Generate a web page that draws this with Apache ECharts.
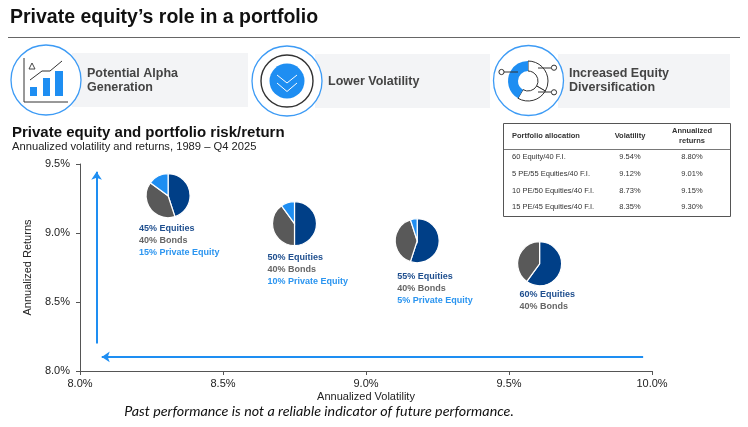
<!DOCTYPE html>
<html>
<head>
<meta charset="utf-8">
<script src="https://cdn.jsdelivr.net/npm/echarts@6/dist/echarts.min.js"></script>
<style>
  html, body { margin: 0; padding: 0; background: #fff; }
  #chart { width: 748px; height: 427px; }
</style>
</head>
<body>
<div id="chart"></div>
<script>
// ── Data ──────────────────────────────────────────────────────────────────
const PORTFOLIOS = ['60 Equity/40 F.I.', '5 PE/55 Equities/40 F.I.', '10 PE/50 Equities/40 F.I.', '15 PE/45 Equities/40 F.I.']
const VOLATILITY = [9.54, 9.12, 8.73, 8.35]
const RETURNS = [8.80, 9.01, 9.15, 9.30]

// pie mixes in %, same order as PORTFOLIOS
const EQUITIES = [60, 55, 50, 45]
const BONDS = [40, 40, 40, 40]
const PRIVATE_EQ = [0, 5, 10, 15]

// where each pie sits on the chart (volatility %, return %)
const PIE_VOL = [9.607, 9.179, 8.75, 8.308]
const PIE_RET = [8.777, 8.944, 9.068, 9.27]

// the two blue arrows, in axis units
const UP_ARROW = [[8.058, 8.199], [8.058, 9.444]]
const LEFT_ARROW = [[9.969, 8.102], [8.076, 8.102]]

const X_RANGE = [8.0, 10.0]
const Y_RANGE = [8.0, 9.5]
const TICK_STEP = 0.5

// ── Styling ───────────────────────────────────────────────────────────────
const NAVY = '#003f87'
const GREY = '#595959'
const SKY = '#1e8ef2'
const ICON_BLUE = '#3d9bf5'
const FONT = '"Liberation Sans", Arial, sans-serif'
const PIE_R = 22
const LABEL_OFFSETS = [[-20, 31], [-20, 36], [-27, 34], [-29, 33]]
const LABEL_COLORS = ['#1f4f8f', '#666666', '#2b95f0']

const chart = echarts.init(document.getElementById('chart'), null, { renderer: 'canvas' })

function txt(x, y, text, font, fill, align) {
  return {
    type: 'text', x, y, silent: true,
    style: { text, font, fill, align: align || 'left', verticalAlign: 'middle' }
  }
}

// ── Header, icons, table, notes (static decoration) ───────────────────────
function buildGraphics() {
  const g = []
  const iconFont = 'bold 12.5px ' + FONT
  g.push(txt(10, 18, 'Private equity\u2019s role in a portfolio', 'bold 19.5px ' + FONT, '#111'))
  g.push({ type: 'line', shape: { x1: 8, y1: 37.5, x2: 740, y2: 37.5 }, style: { stroke: '#666', lineWidth: 1 } })

  // panels
  g.push({ type: 'rect', shape: { x: 72, y: 53, width: 176, height: 54 }, style: { fill: '#f3f4f6' } })
  g.push({ type: 'rect', shape: { x: 315, y: 54, width: 175, height: 54 }, style: { fill: '#f3f4f6' } })
  g.push({ type: 'rect', shape: { x: 558, y: 54, width: 172, height: 54 }, style: { fill: '#f3f4f6' } })
  ;[[46, 80], [287, 81], [528.5, 80.5]].forEach(([cx, cy]) => {
    g.push({ type: 'circle', shape: { cx, cy, r: 35 }, style: { fill: '#fff', stroke: ICON_BLUE, lineWidth: 1.3 } })
  })

  // icon 1: growth chart
  g.push({ type: 'polyline', shape: { points: [[24, 58], [24, 102], [68, 102]] }, style: { stroke: '#333', lineWidth: 1, fill: null } })
  g.push({ type: 'rect', shape: { x: 30, y: 87, width: 7, height: 9 }, style: { fill: SKY } })
  g.push({ type: 'rect', shape: { x: 43, y: 78, width: 7, height: 18 }, style: { fill: SKY } })
  g.push({ type: 'rect', shape: { x: 55, y: 71, width: 8, height: 25 }, style: { fill: SKY } })
  g.push({ type: 'polyline', shape: { points: [[30, 80], [42, 71], [50, 71], [62, 61]] }, style: { stroke: '#333', lineWidth: 1, fill: null } })
  g.push({ type: 'polygon', shape: { points: [[29, 69], [32, 63], [35, 69]] }, style: { stroke: '#333', lineWidth: 0.9, fill: null } })
  g.push(txt(87, 74, 'Potential Alpha', iconFont, '#444'))
  g.push(txt(87, 88, 'Generation', iconFont, '#444'))

  // icon 2: lower volatility
  g.push({ type: 'circle', shape: { cx: 287, cy: 81, r: 26 }, style: { fill: null, stroke: '#333', lineWidth: 1.4 } })
  g.push({ type: 'circle', shape: { cx: 287, cy: 81, r: 17.5 }, style: { fill: SKY } })
  g.push({ type: 'polyline', shape: { points: [[277, 75], [287, 83], [297, 75]] }, style: { stroke: '#fff', lineWidth: 1, fill: null } })
  g.push({ type: 'polyline', shape: { points: [[277, 83], [287, 91.5], [297, 83]] }, style: { stroke: '#fff', lineWidth: 1, fill: null } })
  g.push(txt(328, 82, 'Lower Volatility', iconFont, '#444'))

  // icon 3: diversification donut
  const dx = 528, dy = 81
  g.push({ type: 'sector', shape: { cx: dx, cy: dy, r0: 10, r: 20, startAngle: -Math.PI / 2, endAngle: Math.PI / 6, clockwise: true }, style: { fill: '#fff', stroke: '#333', lineWidth: 1 } })
  g.push({ type: 'sector', shape: { cx: dx, cy: dy, r0: 10, r: 20, startAngle: Math.PI / 6, endAngle: 2 * Math.PI / 3, clockwise: true }, style: { fill: '#fff', stroke: '#333', lineWidth: 1 } })
  g.push({ type: 'sector', shape: { cx: dx, cy: dy, r0: 10, r: 20, startAngle: 2 * Math.PI / 3, endAngle: 3 * Math.PI / 2, clockwise: true }, style: { fill: SKY } })
  ;[[[504, 72], [518, 72], [501.5, 72]], [[538, 68], [551, 68], [554, 67.7]], [[538, 92], [551, 92], [554, 92.3]]].forEach(([a, b, c]) => {
    g.push({ type: 'line', shape: { x1: a[0], y1: a[1], x2: b[0], y2: b[1] }, style: { stroke: '#333', lineWidth: 1 } })
    g.push({ type: 'circle', shape: { cx: c[0], cy: c[1], r: 2.6 }, style: { fill: '#fff', stroke: '#333', lineWidth: 1 } })
  })
  g.push(txt(569, 74, 'Increased Equity', iconFont, '#444'))
  g.push(txt(569, 88, 'Diversification', iconFont, '#444'))

  // chart headings
  g.push(txt(12, 133, 'Private equity and portfolio risk/return', 'bold 15px ' + FONT, '#111'))
  g.push(txt(12, 147, 'Annualized volatility and returns, 1989 \u2013 Q4 2025', '11.2px ' + FONT, '#222'))

  // table
  const tf = '7.5px ' + FONT, tb = 'bold 7.5px ' + FONT
  g.push({ type: 'rect', shape: { x: 503.5, y: 123.5, width: 227, height: 93 }, style: { fill: '#fff', stroke: '#555', lineWidth: 1 } })
  g.push({ type: 'line', shape: { x1: 503.5, y1: 149.5, x2: 730.5, y2: 149.5 }, style: { stroke: '#555', lineWidth: 0.8 } })
  g.push(txt(512, 136, 'Portfolio allocation', tb, '#333'))
  g.push(txt(630, 136, 'Volatility', tb, '#333', 'center'))
  g.push(txt(692, 131, 'Annualized', tb, '#333', 'center'))
  g.push(txt(692, 141, 'returns', tb, '#333', 'center'))
  const rowY = [157, 173.5, 190.5, 207]
  PORTFOLIOS.forEach((name, i) => {
    g.push(txt(512, rowY[i], name, tf, '#333'))
    g.push(txt(630, rowY[i], VOLATILITY[i].toFixed(2) + '%', tf, '#333', 'center'))
    g.push(txt(692, rowY[i], RETURNS[i].toFixed(2) + '%', tf, '#333', 'center'))
  })

  // footnote
  g.push(txt(319, 411, 'Past performance is not a reliable indicator of future performance.', 'italic 14.3px Lato, "Open Sans", sans-serif', '#111', 'center'))
  return g
}

// ── Pies drawn through the cartesian scales ───────────────────────────────
function renderPie(params, api) {
  const i = params.dataIndex
  const c = api.coord([api.value(0), api.value(1)])
  const shares = [api.value(2), api.value(3), api.value(4)]
  const colors = [NAVY, GREY, SKY]
  const children = []
  let a = -Math.PI / 2
  shares.forEach((s, k) => {
    if (!s) return
    const e = a + s / 100 * Math.PI * 2
    children.push({
      type: 'sector',
      shape: { cx: c[0], cy: c[1], r0: 0, r: PIE_R, startAngle: a, endAngle: e, clockwise: true },
      style: { fill: colors[k], stroke: '#fff', lineWidth: 1.2 }
    })
    a = e
  })
  const names = ['Equities', 'Bonds', 'Private Equity']
  const off = LABEL_OFFSETS[i]
  let line = 0
  shares.forEach((s, k) => {
    if (!s) return
    children.push({
      type: 'text',
      x: c[0] + off[0], y: c[1] + off[1] + line * 12,
      style: { text: s + '% ' + names[k], font: 'bold 9px ' + FONT, fill: LABEL_COLORS[k], verticalAlign: 'middle' }
    })
    line++
  })
  return { type: 'group', children }
}

const pieData = PIE_VOL.map((v, i) => [v, PIE_RET[i], EQUITIES[i], BONDS[i], PRIVATE_EQ[i]])

chart.setOption({
  animation: false,
  textStyle: { fontFamily: FONT },
  grid: { left: 80, right: 96, top: 164, bottom: 56 },
  xAxis: {
    type: 'value', min: X_RANGE[0], max: X_RANGE[1], interval: TICK_STEP,
    name: 'Annualized Volatility', nameLocation: 'middle', nameGap: 20,
    nameTextStyle: { color: '#222', fontSize: 11 },
    axisLine: { show: true, lineStyle: { color: '#555', width: 1 } },
    axisTick: { show: true, length: 4, lineStyle: { color: '#555' } },
    axisLabel: { color: '#222', fontSize: 11, margin: 7, formatter: (v) => v.toFixed(1) + '%' },
    splitLine: { show: false }
  },
  yAxis: {
    type: 'value', min: Y_RANGE[0], max: Y_RANGE[1], interval: TICK_STEP,
    name: 'Annualized Returns', nameLocation: 'middle', nameGap: 47,
    nameTextStyle: { color: '#222', fontSize: 11 },
    axisLine: { show: true, lineStyle: { color: '#555', width: 1 } },
    axisTick: { show: true, length: 4, lineStyle: { color: '#555' } },
    axisLabel: { color: '#222', fontSize: 11, margin: 10, formatter: (v) => v.toFixed(1) + '%' },
    splitLine: { show: false }
  },
  series: [
    {
      type: 'lines',
      coordinateSystem: 'cartesian2d',
      symbol: ['none', 'arrow'],
      symbolSize: 8,
      lineStyle: { color: SKY, width: 2, opacity: 1 },
      data: [{ coords: UP_ARROW }, { coords: LEFT_ARROW }]
    },
    {
      type: 'custom',
      renderItem: renderPie,
      data: pieData,
      silent: true
    }
  ],
  graphic: buildGraphics()
})
</script>
</body>
</html>
